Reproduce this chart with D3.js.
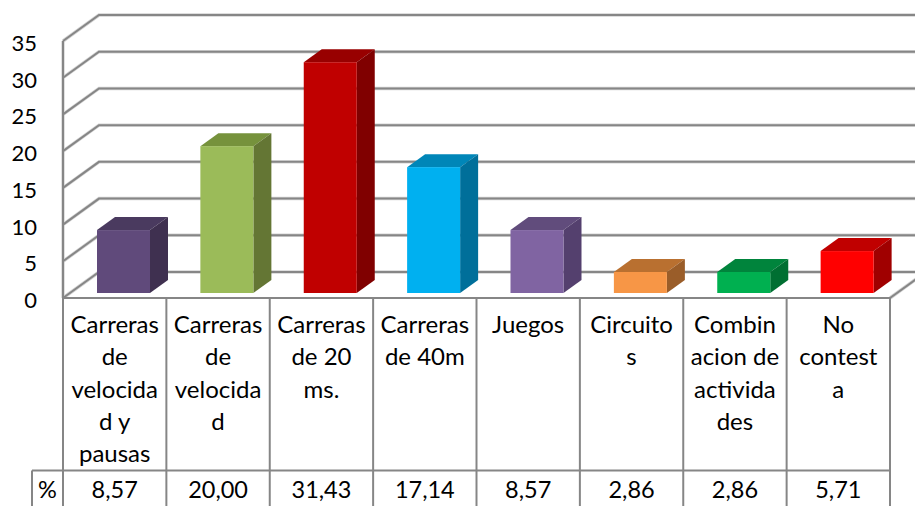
<!DOCTYPE html>
<html><head><meta charset="utf-8">
<style>html,body{margin:0;padding:0;background:#fff;overflow:hidden}svg{display:block}text{font-family:Lato,"Open Sans",sans-serif;fill:#000}</style>
<script src="https://cdn.jsdelivr.net/npm/d3@7/dist/d3.min.js"></script>
</head><body>
<script>
const categoryLines = [
  ["Carreras","de","velocida","d y","pausas"],
  ["Carreras","de","velocida","d"],
  ["Carreras","de 20","ms."],
  ["Carreras","de 40m"],
  ["Juegos"],
  ["Circuito","s"],
  ["Combin","acion de","activida","des"],
  ["No","contest","a"]
];
const values = [8.57,20,31.43,17.14,8.57,2.86,2.86,5.71];
const valueLabels = ["8,57","20,00","31,43","17,14","8,57","2,86","2,86","5,71"];
const frontColors = ["#604A7B","#9BBB59","#C00000","#00B0F0","#8064A2","#F79646","#00B050","#FF0000"];
const topColors = ["#4A3A5F","#76923C","#980000","#0086B8","#614C7C","#B97030","#00843C","#C00000"];
const sideColors = ["#3F3050","#647634","#800000","#006F9A","#54406E","#9A5D29","#006F32","#A00000"];
const yTicks = [0,5,10,15,20,25,30,35];
const rowName = "%";

const W=915,H=506;
const svg=d3.select("body").append("svg").attr("width",W).attr("height",H);
const x=d3.scaleBand().domain(d3.range(values.length)).range([63,890]).paddingInner(0).paddingOuter(0);
const y=d3.scaleLinear().domain([0,35]).range([298,41]);
const wallDx=36, wallDy=-26;
const barBase=-5, barDx=18, barDy=-13, barLeft=34, barW=53;
const gridCol="#868686";

// walls: a pale halo under a darker core, as in the reference
function wallLines(g){
  yTicks.forEach(t=>{
    g.append("path")
      .attr("d",`M${x.range()[0]},${y(t)}L${x.range()[0]+wallDx},${y(t)+wallDy}L${x.range()[1]+wallDx},${y(t)+wallDy}`);
  });
  g.append("path").attr("d",`M${x.range()[1]},${y(0)}L${x.range()[1]+wallDx},${y(0)+wallDy}`);
  g.append("path").attr("d",`M63,${y(35)}V${y(0)}`);
}
wallLines(svg.append("g").attr("stroke","#d4d4d4").attr("stroke-width",3.4).attr("fill","none"));
wallLines(svg.append("g").attr("stroke",gridCol).attr("stroke-width",2).attr("fill","none"));

// tick labels
svg.append("g").selectAll("text").data(yTicks).join("text")
  .attr("x",37).attr("y",d=>y(d)+10).attr("text-anchor","end").attr("font-size",22).text(d=>d);

// bars
const bars=svg.append("g").selectAll("g").data(values).join("g");
const bx=i=>x(i)+barLeft, by=v=>y(v)+barBase, b0=y(0)+barBase;
bars.append("path").attr("fill",(d,i)=>topColors[i])
  .attr("d",(d,i)=>`M${bx(i)},${by(d)}l${barDx},${barDy}h${barW}l${-barDx},${-barDy}z`);
bars.append("path").attr("fill",(d,i)=>sideColors[i])
  .attr("d",(d,i)=>`M${bx(i)+barW},${by(d)}l${barDx},${barDy}V${b0+barDy}l${-barDx},${-barDy}z`);
bars.append("rect").attr("fill",(d,i)=>frontColors[i])
  .attr("x",(d,i)=>bx(i)).attr("y",d=>by(d)).attr("width",barW).attr("height",d=>b0-by(d));

// table
const tbl=svg.append("g").attr("stroke",gridCol).attr("stroke-width",2);
tbl.append("line").attr("x1",63).attr("x2",890).attr("y1",298).attr("y2",298);
tbl.append("line").attr("x1",32).attr("x2",890).attr("y1",470.5).attr("y2",470.5);
tbl.append("line").attr("x1",32).attr("x2",32).attr("y1",470.5).attr("y2",H);
d3.range(values.length+1).forEach(i=>{
  const xx=i<values.length?x(i):x.range()[1];
  tbl.append("line").attr("x1",xx).attr("x2",xx).attr("y1",298).attr("y2",H);
});
const labels=svg.append("g").attr("text-anchor","middle");
categoryLines.forEach((ls,i)=>{
  ls.forEach((s,j)=>labels.append("text").attr("font-size",24).attr("x",x(i)+x.bandwidth()/2).attr("y",333+j*32.3).text(s));
});
valueLabels.forEach((s,i)=>labels.append("text").attr("font-size",23.5).attr("x",x(i)+x.bandwidth()/2).attr("y",498).text(s));
labels.append("text").attr("font-size",23.5).attr("x",47.5).attr("y",498).text(rowName);
</script>
</body></html>
